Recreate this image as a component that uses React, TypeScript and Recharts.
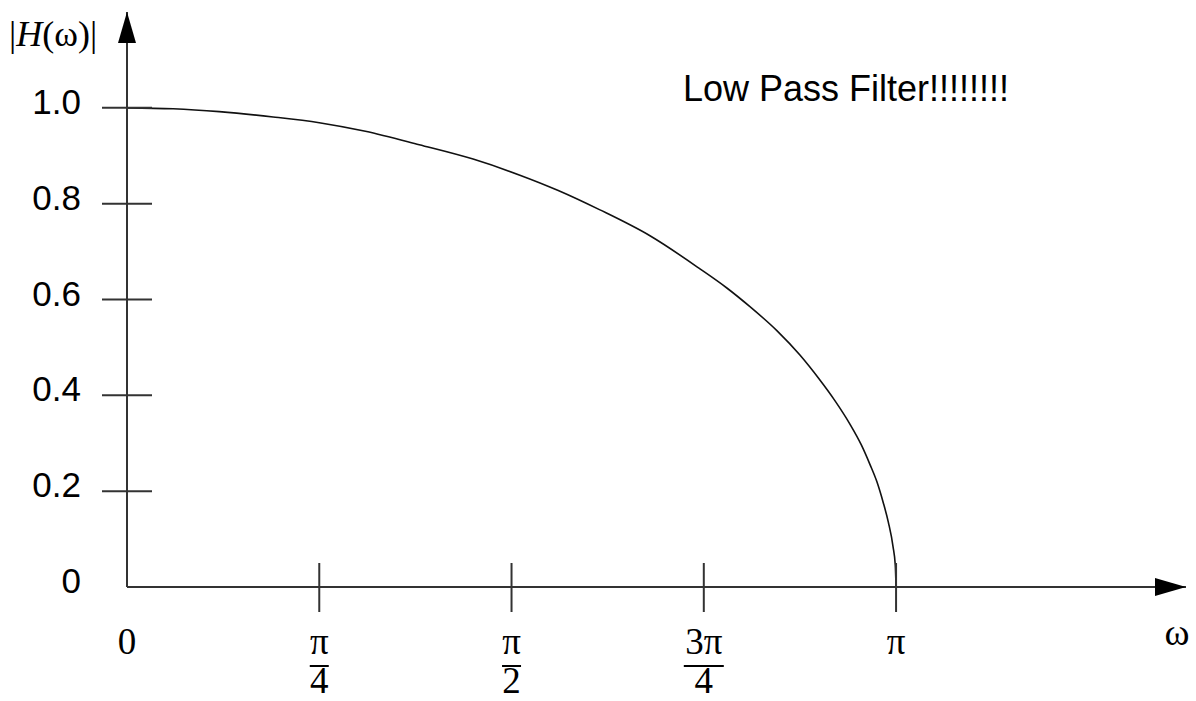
import { LineChart, Line, XAxis, YAxis, ReferenceDot } from "recharts";

// frequency in units of pi, magnitude
const omega = [
  0, 0.06, 0.12, 0.19, 0.25, 0.31, 0.38, 0.45, 0.51, 0.56, 0.615, 0.68, 0.745,
  0.78, 0.81, 0.845, 0.875, 0.9, 0.92, 0.94, 0.955, 0.966, 0.975, 0.983, 0.99,
  0.996, 0.999, 1.0,
];
const magnitude = [
  1.0, 0.998, 0.992, 0.981, 0.969, 0.951, 0.923, 0.893, 0.86, 0.828, 0.787,
  0.733, 0.664, 0.624, 0.585, 0.535, 0.484, 0.434, 0.39, 0.34, 0.296, 0.256,
  0.22, 0.178, 0.135, 0.085, 0.045, 0,
];

const xTicks = [0, 0.25, 0.5, 0.75, 1];
const xTickTop = ["0", "π", "π", "3π", "π"];
const xTickBottom = ["", "4", "2", "4", ""];

const yTicks = [0, 0.2, 0.4, 0.6, 0.8, 1.0];
const yTickLabels = ["0", "0.2", "0.4", "0.6", "0.8", "1.0"];

const xMax = 1.377;
const yMax = 1.2;

const data = omega.map((w, i) => ({ w, mag: magnitude[i] }));

const SERIF = "'Liberation Serif', 'Times New Roman', serif";
const SANS = "'Liberation Sans', Arial, sans-serif";
const AXIS = "#333";

function YTick(props: any) {
  const { x, y, payload } = props;
  const i = yTicks.indexOf(payload.value);
  return (
    <g>
      {payload.value !== 0 && (
        <line x1={x - 25} y1={y} x2={x + 25} y2={y} stroke={AXIS} strokeWidth={2} />
      )}
      <text x={x - 46} y={y + 6} textAnchor="end" fontFamily={SANS} fontSize={35} fill="#000">
        {yTickLabels[i]}
      </text>
    </g>
  );
}

function XTick(props: any) {
  const { x, y, payload } = props;
  const i = xTicks.indexOf(payload.value);
  const top = xTickTop[i];
  const bottom = xTickBottom[i];
  const barW = top.length > 1 ? 40 : 19;
  return (
    <g>
      {payload.value !== 0 && (
        <line x1={x} y1={y - 24} x2={x} y2={y + 25} stroke={AXIS} strokeWidth={2} />
      )}
      <text x={x} y={y + 67} textAnchor="middle" fontFamily={SERIF} fontSize={37} fill="#000">
        {top}
      </text>
      {bottom && (
        <>
          <line x1={x - barW / 2} y1={y + 79} x2={x + barW / 2} y2={y + 79} stroke="#000" strokeWidth={2} />
          <text x={x} y={y + 106} textAnchor="middle" fontFamily={SERIF} fontSize={37} fill="#000">
            {bottom}
          </text>
        </>
      )}
    </g>
  );
}

const rightArrow = (p: any) => (
  <polygon points={`${p.cx},${p.cy} ${p.cx - 31},${p.cy - 9} ${p.cx - 31},${p.cy + 9}`} fill="#000" />
);
const upArrow = (p: any) => (
  <polygon points={`${p.cx},${p.cy} ${p.cx - 9},${p.cy + 31} ${p.cx + 9},${p.cy + 31}`} fill="#000" />
);

export default function App() {
  return (
    <div style={{ position: "absolute", left: 0, top: 0, background: "#fff" }}>
      <LineChart
        width={1196}
        height={701}
        data={data}
        margin={{ top: 12, right: 10, left: 0, bottom: 0 }}
      >
        <XAxis
          type="number"
          dataKey="w"
          domain={[0, xMax]}
          ticks={xTicks}
          interval={0}
          tickSize={0}
          tickMargin={0}
          tickLine={false}
          tick={<XTick />}
          height={114}
          axisLine={{ stroke: AXIS, strokeWidth: 2 }}
        />
        <YAxis
          type="number"
          domain={[0, yMax]}
          ticks={yTicks}
          interval={0}
          tickSize={0}
          tickMargin={0}
          tickLine={false}
          tick={<YTick />}
          width={127}
          axisLine={{ stroke: AXIS, strokeWidth: 2 }}
        />
        <Line
          type="monotone"
          dataKey="mag"
          stroke="#111"
          strokeWidth={1.6}
          dot={false}
          isAnimationActive={false}
        />
        <ReferenceDot x={xMax} y={0} shape={rightArrow} />
        <ReferenceDot x={0} y={yMax} shape={upArrow} />
        <text x={9} y={46} fontFamily={SERIF} fontSize={36} fill="#000">
          |<tspan fontStyle="italic">H</tspan>(ω)|
        </text>
        <text x={1177} y={645} textAnchor="middle" fontFamily={SERIF} fontSize={38} fill="#000">
          ω
        </text>
        <text x={683} y={101} fontFamily={SANS} fontSize={36} fill="#000">
          Low Pass Filter!!!!!!!!
        </text>
      </LineChart>
    </div>
  );
}
